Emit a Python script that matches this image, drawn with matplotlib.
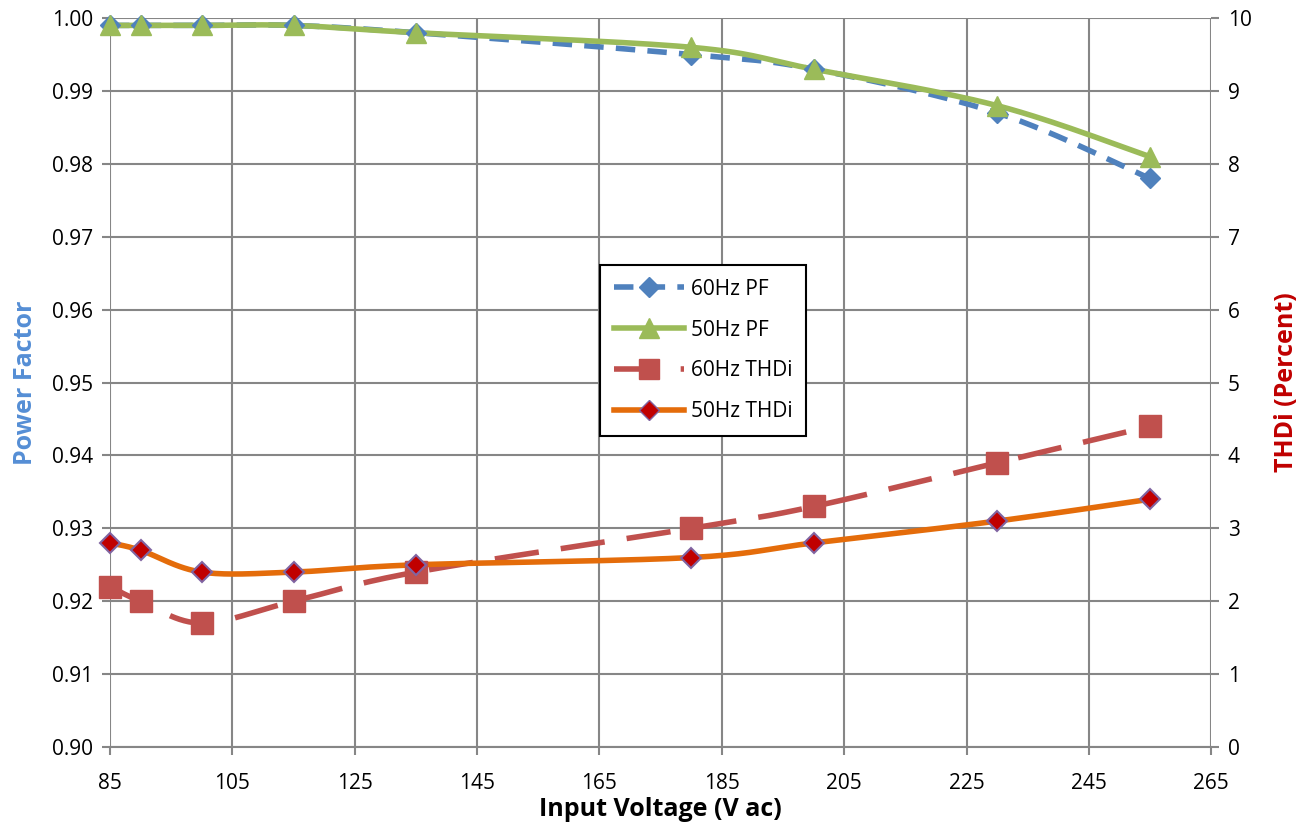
import numpy as np
import matplotlib
matplotlib.use("Agg")
import matplotlib.pyplot as plt
from matplotlib.lines import Line2D

voltage = [85, 90, 100, 115, 135, 180, 200, 230, 255]
pf_60 = [0.999, 0.999, 0.999, 0.999, 0.998, 0.995, 0.993, 0.987, 0.978]
pf_50 = [0.999, 0.999, 0.999, 0.999, 0.998, 0.996, 0.993, 0.988, 0.981]
thd_60 = [2.2, 2.0, 1.7, 2.0, 2.4, 3.0, 3.3, 3.9, 4.4]
thd_50 = [2.8, 2.7, 2.4, 2.4, 2.5, 2.6, 2.8, 3.1, 3.4]
x_ticks = [85, 105, 125, 145, 165, 185, 205, 225, 245, 265]

plt.rcParams['font.family'] = ['Open Sans', 'DejaVu Sans']

def smooth(xs, ys, xr, yr, n=30):
    # Catmull-Rom curve drawn through the data points (display smoothing only)
    P = np.column_stack([(np.asarray(xs) - xr[0]) / (xr[1] - xr[0]),
                         (np.asarray(ys) - yr[0]) / (yr[1] - yr[0]) * 0.66])
    P = np.vstack([P[0], P, P[-1]])
    out = []
    for i in range(1, len(P) - 2):
        p0, p1, p2, p3 = P[i - 1], P[i], P[i + 1], P[i + 2]
        t = np.linspace(0, 1, n)[:, None]
        c = 0.5 * ((2 * p1) + (-p0 + p2) * t + (2 * p0 - 5 * p1 + 4 * p2 - p3) * t ** 2
                   + (-p0 + 3 * p1 - 3 * p2 + p3) * t ** 3)
        out.append(c if i == 1 else c[1:])
    c = np.vstack(out)
    return (c[:, 0] * (xr[1] - xr[0]) + xr[0],
            c[:, 1] / 0.66 * (yr[1] - yr[0]) + yr[0])

fig = plt.figure(figsize=(13.11, 8.24), dpi=100)
ax = fig.add_axes([0.0839, 0.0934, 0.84, 0.8846])
ax2 = ax.twinx()

xr = (85, 265)
c_blue = '#4F81BD'
c_green = '#9BBB59'
c_red = '#C0504D'
c_orange = '#E46C0A'

ax.set_xlim(*xr)
ax.set_ylim(0.90, 1.00)
ax2.set_ylim(0, 10)

sx, sy = smooth(voltage, pf_60, xr, (0.90, 1.0))
ax.plot(sx, sy, color=c_blue, lw=4, dashes=(3.5, 2.2), zorder=3, clip_on=False)
ax.plot(voltage, pf_60, ls='none', marker='D', ms=10, color=c_blue, zorder=4, clip_on=False)
sx, sy = smooth(voltage, pf_50, xr, (0.90, 1.0))
ax.plot(sx, sy, color=c_green, lw=4, zorder=3, clip_on=False)
ax.plot(voltage, pf_50, ls='none', marker='^', ms=14, color=c_green, zorder=4, clip_on=False)

sx, sy = smooth(voltage, thd_60, xr, (0, 10))
ax2.plot(sx, sy, color=c_red, lw=4, dashes=(8, 4), zorder=3, clip_on=False)
ax2.plot(voltage, thd_60, ls='none', marker='s', ms=16, color=c_red, zorder=4, clip_on=False)
sx, sy = smooth(voltage, thd_50, xr, (0, 10))
ax2.plot(sx, sy, color=c_orange, lw=4, zorder=3, clip_on=False)
ax2.plot(voltage, thd_50, ls='none', marker='D', ms=10, mfc='#C00000',
         mec='#8064A2', mew=1.5, zorder=4, clip_on=False)

ax.set_xticks(x_ticks)
ax.set_yticks(np.round(np.arange(0.90, 1.0001, 0.01), 2))
ax.set_yticklabels([f'{v:.2f}' for v in np.arange(0.90, 1.0001, 0.01)])
ax2.set_yticks(range(0, 11))
ax.grid(True, color='#868686', lw=1.5)
ax.set_axisbelow(True)
for a in (ax, ax2):
    for s in a.spines.values():
        s.set_visible(False)
    a.tick_params(labelsize=15, length=6, width=1.5, color='#868686', pad=6)
ax.spines['bottom'].set_visible(True)
ax.spines['bottom'].set_color('#868686')
ax.spines['bottom'].set_linewidth(1.5)
ax.tick_params(axis='x', pad=13)

ax.set_xlabel('Input Voltage (V ac)', fontsize=18, fontweight='bold', labelpad=2)
ax.set_ylabel('Power Factor', fontsize=18, fontweight='bold', color='#558ED5', labelpad=10)
ax2.set_ylabel('THDi (Percent)', fontsize=18, fontweight='bold', color='#C00000', labelpad=16)

handles = [
    Line2D([], [], color=c_blue, lw=4, dashes=(3.5, 2.2), marker='D', ms=10),
    Line2D([], [], color=c_green, lw=4, marker='^', ms=14),
    Line2D([], [], color=c_red, lw=4, dashes=(8, 4), marker='s', ms=14),
    Line2D([], [], color=c_orange, lw=4, marker='D', ms=10, mfc='#C00000', mec='#8064A2'),
]
labels = ['60Hz PF', '50Hz PF', '60Hz THDi', '50Hz THDi']
leg = ax2.legend(handles, labels, loc='upper left', bbox_to_anchor=(0.445, 0.661),
                 borderaxespad=0, fontsize=15, frameon=True, fancybox=False,
                 edgecolor='black', framealpha=1, handlelength=3.4, handletextpad=0.3,
                 labelspacing=0.95, borderpad=0.65)
leg.get_frame().set_linewidth(1.5)
ax2.set_zorder(ax.get_zorder() + 1)

fig.savefig('out.png', dpi=100)
